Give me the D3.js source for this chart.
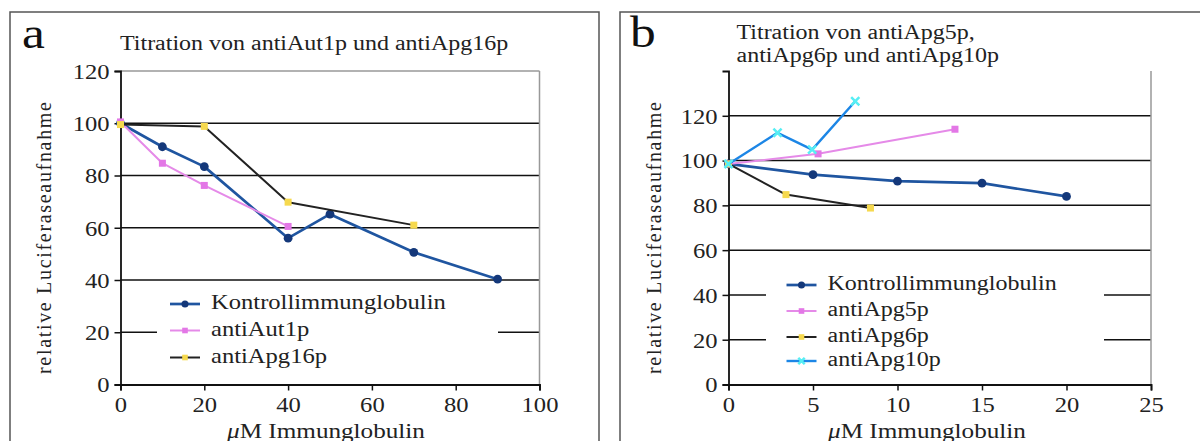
<!DOCTYPE html>
<html><head><meta charset="utf-8">
<script src="https://cdn.jsdelivr.net/npm/d3@7"></script>
<style>
html,body{margin:0;padding:0;background:#fff;}
svg{display:block;}
</style></head>
<body>
<svg id="c" width="1200" height="441"></svg>
<script>
// ---------- DATA ----------
// Panel a
const aKontrollX = [0, 10, 20, 40, 50, 70, 90];
const aKontrollY = [100, 91, 83.4, 56, 65.2, 50.6, 40.3];
const aAut1pX = [0, 10, 20, 40];
const aAut1pY = [100.5, 84.7, 76.2, 60.5];
const aApg16pX = [0, 20, 40, 70];
const aApg16pY = [99.5, 98.8, 69.8, 61];
const aXTicks = [0, 20, 40, 60, 80, 100];
const aYTicks = [0, 20, 40, 60, 80, 100, 120];
// Panel b
const bKontrollX = [0, 5, 10, 15, 20];
const bKontrollY = [98.5, 93.7, 90.8, 89.9, 84];
const bApg5pX = [0, 5.3, 13.4];
const bApg5pY = [98.5, 103, 114];
const bApg6pX = [0, 3.4, 8.4];
const bApg6pY = [98.5, 84.8, 78.8];
const bApg10pX = [0, 2.9, 4.95, 7.5];
const bApg10pY = [98.5, 112.4, 104.9, 126.5];
const bXTicks = [0, 5, 10, 15, 20, 25];
const bYTicks = [0, 20, 40, 60, 80, 100, 120];

const yTitle = "relative Luciferaseaufnahme";
const xTitleMu = "\u03BC";
const xTitleRest = "M Immunglobulin";

const FONT = "'Liberation Serif', 'Times New Roman', serif";
const svg = d3.select("#c");

const styles = {
  kontroll: {line: "#1f55a0", marker: "#14387a", shape: "circle", w: 2.7},
  violet:   {line: "#e58ae8", marker: "#e377e6", shape: "square", w: 2},
  black:    {line: "#222222", marker: "#f6d94e", shape: "square", w: 2},
  cyan:     {line: "#1c86e6", marker: "#56eef4", shape: "cross", w: 2.4}
};

function txt(g, x, y, s, size, anchor) {
  return g.append("text").attr("x", x).attr("y", y)
    .attr("text-anchor", anchor || "start")
    .style("font-family", FONT).style("font-size", size + "px")
    .attr("fill", "#222").attr("class", "stretch").text(s);
}

function drawPanel(cfg) {
  const g = svg.append("g");
  g.append("rect").attr("x", cfg.frame[0]).attr("y", cfg.frame[1])
    .attr("width", cfg.frame[2]).attr("height", cfg.frame[3])
    .attr("fill", "none").attr("stroke", "#555").attr("stroke-width", 1.5);
  txt(g, cfg.letterPos[0], cfg.letterPos[1], cfg.letter, 44).attr("fill", "#111");
  cfg.title.forEach((t, i) => txt(g, cfg.titlePos[0], cfg.titlePos[1] + i * 23.5, t, 20.5));
  const x = d3.scaleLinear().domain(cfg.xDomain).range(cfg.xRange);
  const y = d3.scaleLinear().domain(cfg.yDomain).range(cfg.yRange);
  g.append("g").selectAll("line").data(cfg.yTicks.filter(v => v > 0 && v < cfg.yDomain[1]))
    .join("line").attr("x1", cfg.xRange[0]).attr("x2", cfg.xRange[1])
    .attr("y1", d => y(d)).attr("y2", d => y(d))
    .attr("stroke", "#111").attr("stroke-width", 1.5);
  if (cfg.topBorder) {
    g.append("line").attr("x1", cfg.xRange[0]).attr("x2", cfg.xRange[1])
      .attr("y1", cfg.yRange[1]).attr("y2", cfg.yRange[1])
      .attr("stroke", "#999").attr("stroke-width", 1.5);
  }
  g.append("line").attr("x1", cfg.xRange[1]).attr("x2", cfg.xRange[1])
    .attr("y1", cfg.yRange[0]).attr("y2", cfg.yRange[1])
    .attr("stroke", "#999").attr("stroke-width", 1.5);
  g.append("rect").attr("x", cfg.legendBox[0]).attr("y", cfg.legendBox[1])
    .attr("width", cfg.legendBox[2]).attr("height", cfg.legendBox[3]).attr("fill", "#fff");
  const yAxis = d3.axisLeft(y).tickValues(cfg.yTicks).tickSize(6).tickPadding(5);
  const gy = g.append("g").attr("transform", `translate(${cfg.xRange[0]},0)`).call(yAxis);
  const xAxis = d3.axisBottom(x).tickValues(cfg.xTicks).tickSize(6).tickPadding(5);
  const gx = g.append("g").attr("transform", `translate(0,${cfg.yRange[0]})`).call(xAxis);
  [gx, gy].forEach(a => {
    a.attr("font-family", null).attr("font-size", null);
    a.select(".domain").attr("stroke", "#111").attr("stroke-width", 1.8);
    a.selectAll(".tick line").attr("stroke", "#111").attr("stroke-width", 1.5);
    a.selectAll(".tick text").style("font-size", "21px").style("font-family", FONT)
      .attr("fill", "#222").attr("class", "stretch");
  });
  gy.selectAll(".tick text").attr("dy", "0.35em");
  gx.selectAll(".tick text").attr("dy", "0.8em");
  const xt = g.append("text").attr("x", cfg.xTitleX).attr("y", cfg.xTitleY)
    .attr("text-anchor", "middle").style("font-family", FONT).style("font-size", "21.5px")
    .attr("fill", "#222").attr("class", "stretch");
  xt.append("tspan").style("font-style", "italic").text(xTitleMu);
  xt.append("tspan").text(xTitleRest);
  g.append("text").attr("transform", `translate(${cfg.yTitleX},238) rotate(-90)`)
    .attr("text-anchor", "middle").style("font-family", FONT).style("font-size", "20px")
    .attr("fill", "#222")
    .attr("textLength", 272).attr("lengthAdjust", "spacing").text(yTitle);
  const line = d3.line().x(d => x(d[0])).y(d => y(d[1]));
  cfg.series.forEach(s => {
    const pts = s.xs.map((v, i) => [v, s.ys[i]]);
    const st = styles[s.style];
    g.append("path").datum(pts).attr("d", line).attr("fill", "none")
      .attr("stroke", st.line).attr("stroke-width", st.w).attr("stroke-linejoin", "round");
    drawMarkers(g, pts.map(p => [x(p[0]), y(p[1])]), st, 1);
  });
  cfg.series.forEach((s, i) => {
    const st = styles[s.style];
    const ly = cfg.legendY[i];
    g.append("line").attr("x1", cfg.legendX).attr("x2", cfg.legendX + 30)
      .attr("y1", ly).attr("y2", ly).attr("stroke", st.line).attr("stroke-width", st.w);
    drawMarkers(g, [[cfg.legendX + 15, ly]], st, 0.8);
    txt(g, cfg.legendX + 41, ly + 5, s.name, cfg.legendSize);
  });
}

function drawMarkers(g, pts, st, k) {
  pts.forEach(p => {
    if (st.shape === "circle") {
      g.append("circle").attr("cx", p[0]).attr("cy", p[1]).attr("r", 4.4 * k).attr("fill", st.marker);
    } else if (st.shape === "square") {
      const s = 7 * k;
      g.append("rect").attr("x", p[0] - s / 2).attr("y", p[1] - s / 2).attr("width", s).attr("height", s).attr("fill", st.marker);
    } else {
      g.append("path").attr("d", d3.symbol(d3.symbolX, 45 * k * k)()).attr("transform", `translate(${p[0]},${p[1]})`)
        .attr("stroke", st.marker).attr("stroke-width", 2.5).attr("fill", "none");
    }
  });
}

drawPanel({
  frame: [10, 12, 589, 460], letter: "a", letterPos: [22, 48],
  title: ["Titration von antiAut1p und antiApg16p"], titlePos: [120, 50],
  xDomain: [0, 100], xRange: [120.5, 539.5], yDomain: [0, 120], yRange: [384.5, 71],
  xTicks: aXTicks, yTicks: aYTicks, topBorder: true,
  legendBox: [157, 288, 341, 80], legendX: 170, legendY: [304, 330.5, 357.5], legendSize: 21,
  xTitleX: 326, xTitleY: 438, yTitleX: 51,
  series: [
    {name: "Kontrollimmunglobulin", xs: aKontrollX, ys: aKontrollY, style: "kontroll"},
    {name: "antiAut1p", xs: aAut1pX, ys: aAut1pY, style: "violet"},
    {name: "antiApg16p", xs: aApg16pX, ys: aApg16pY, style: "black"}
  ]
});

drawPanel({
  frame: [620, 12, 620, 460], letter: "b", letterPos: [630, 47],
  title: ["Titration von antiApg5p,", "antiApg6p und antiApg10p"], titlePos: [736.5, 38.5],
  xDomain: [0, 25], xRange: [728.5, 1151], yDomain: [0, 140], yRange: [384.5, 71],
  xTicks: bXTicks, yTicks: bYTicks, topBorder: false,
  legendBox: [766, 268, 338, 105], legendX: 786.5, legendY: [285, 311, 337, 361], legendSize: 20.5,
  xTitleX: 927, xTitleY: 438, yTitleX: 661,
  series: [
    {name: "Kontrollimmunglobulin", xs: bKontrollX, ys: bKontrollY, style: "kontroll"},
    {name: "antiApg5p", xs: bApg5pX, ys: bApg5pY, style: "violet"},
    {name: "antiApg6p", xs: bApg6pX, ys: bApg6pY, style: "black"},
    {name: "antiApg10p", xs: bApg10pX, ys: bApg10pY, style: "cyan"}
  ]
});

// horizontal stretch of the text to match the wide scanned serif
const STRETCH = 1.17;
svg.selectAll("text.stretch").each(function() {
  const w = this.getComputedTextLength();
  d3.select(this).attr("textLength", w * STRETCH).attr("lengthAdjust", "spacingAndGlyphs");
});
</script>
</body></html>
